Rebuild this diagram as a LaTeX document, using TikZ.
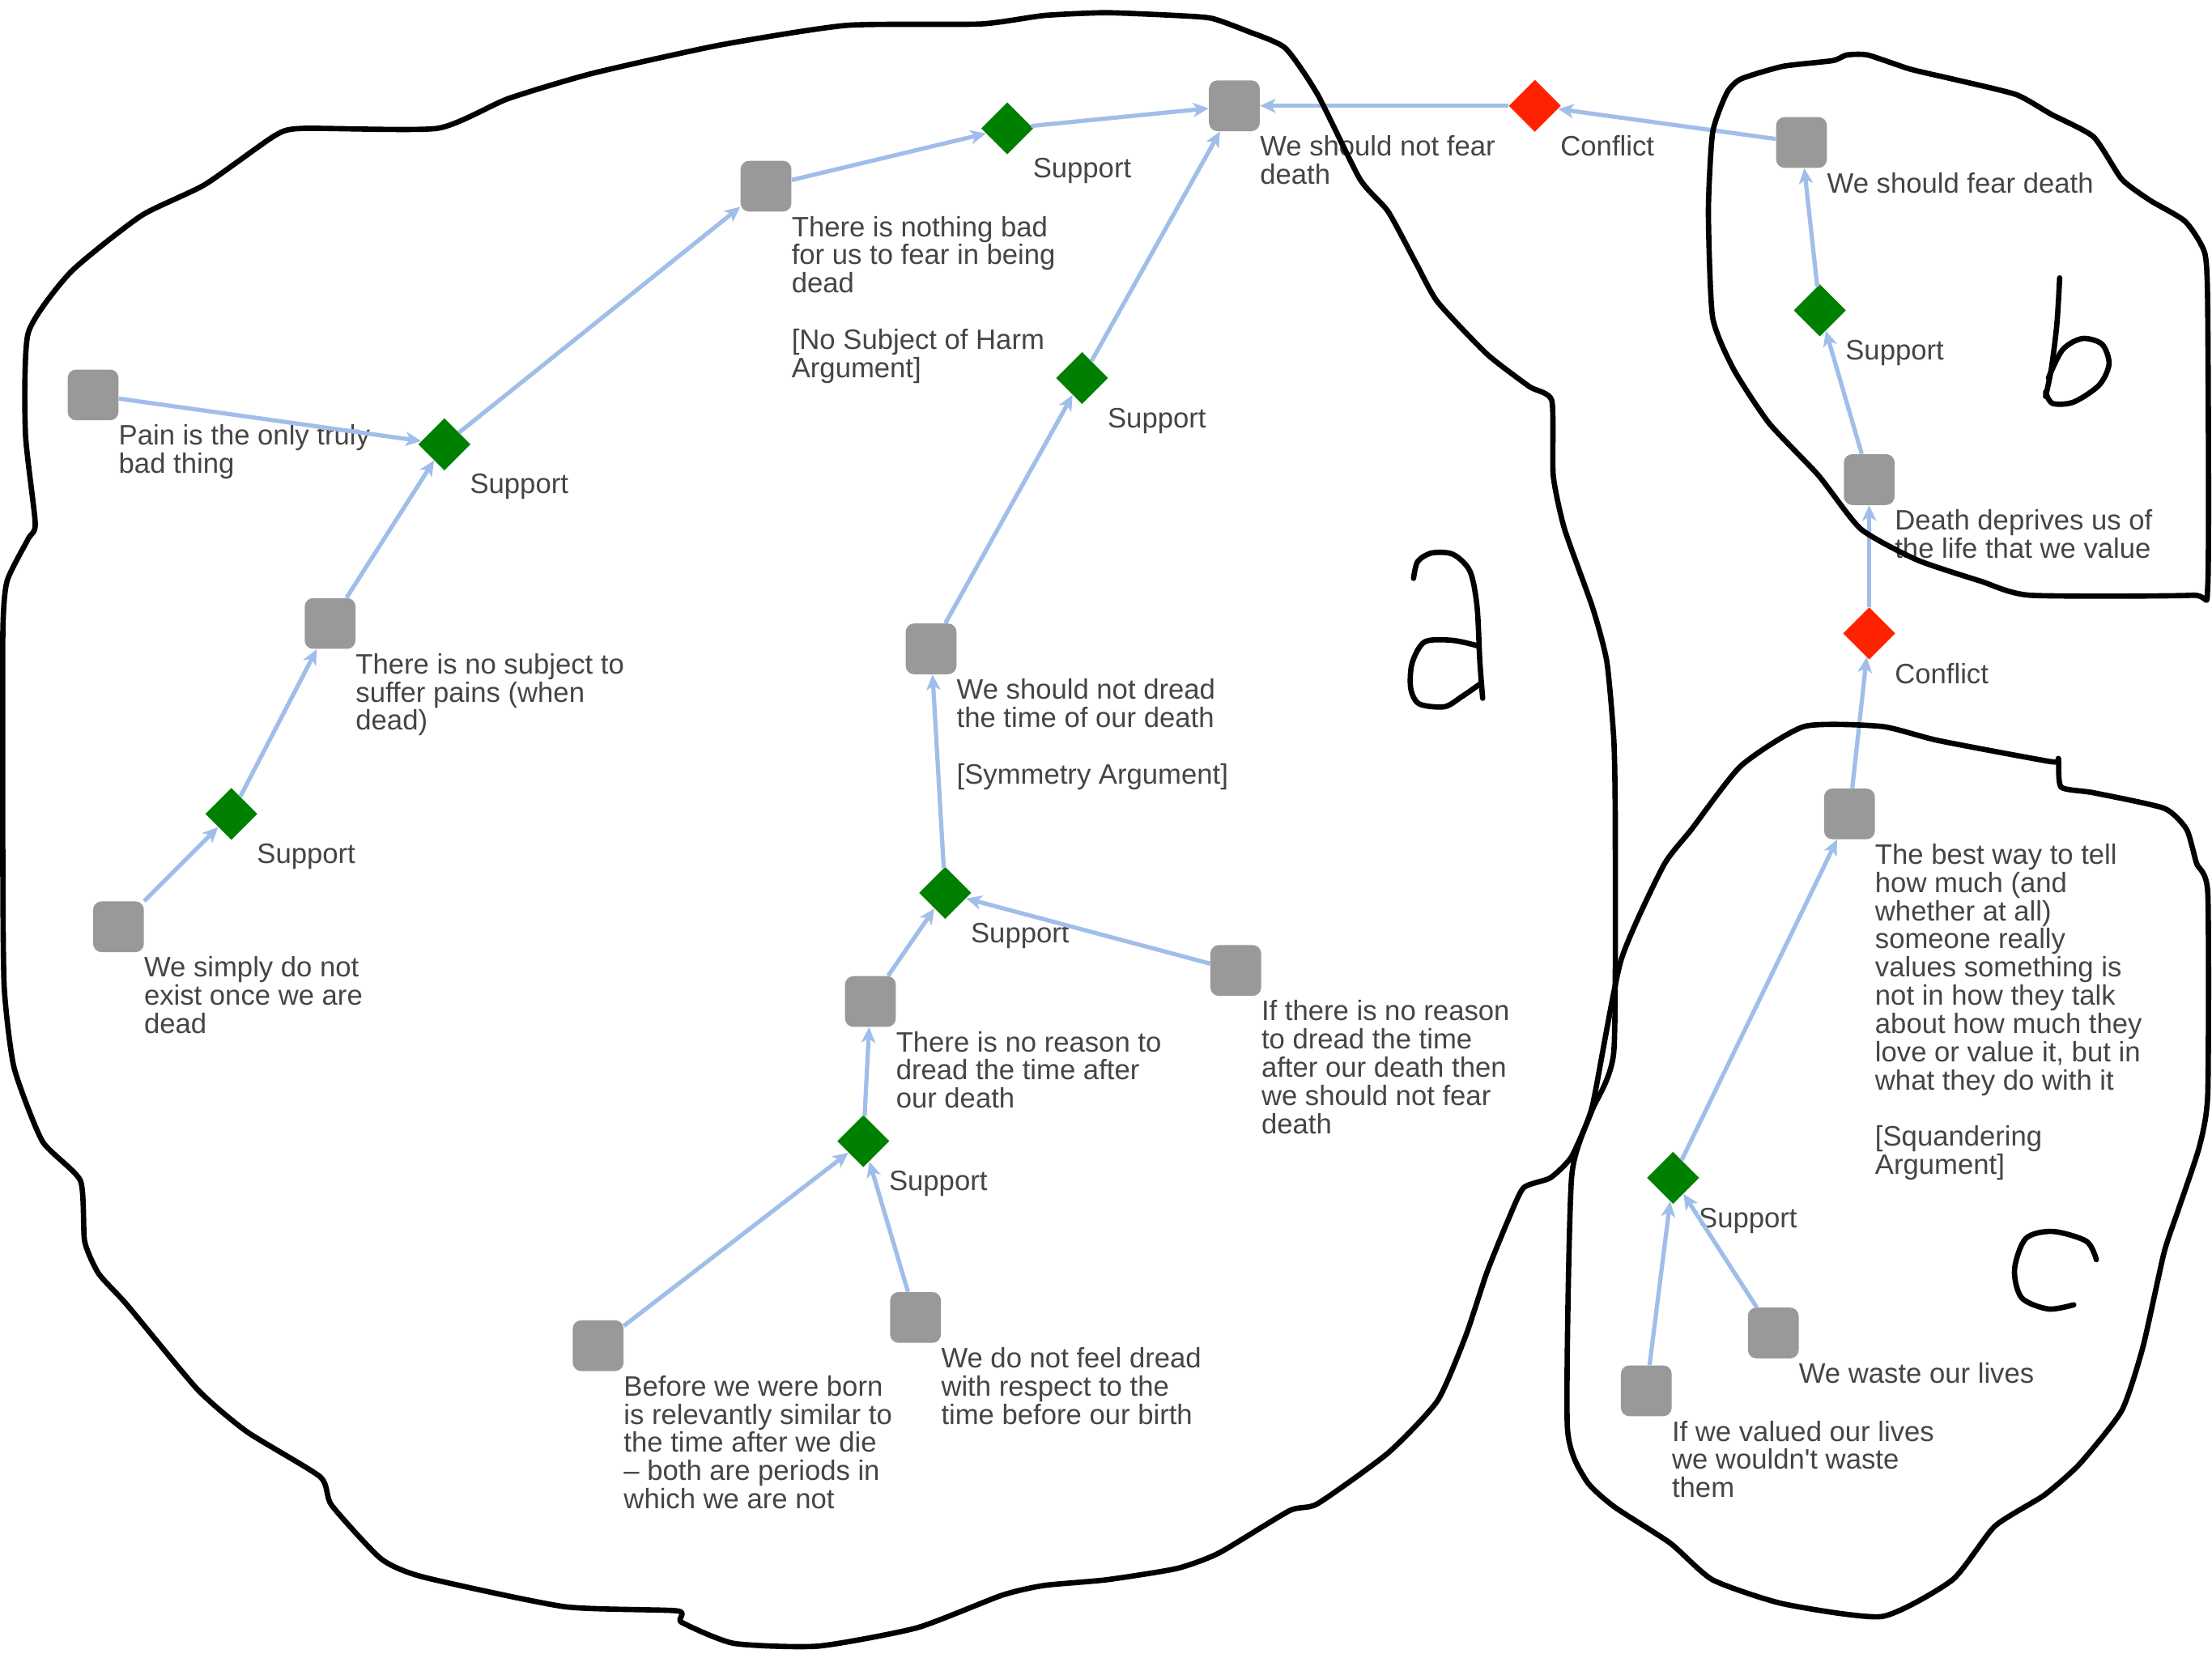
\documentclass[tikz,border=0pt]{standalone}
\usepackage{fontspec}
\setmainfont{Liberation Sans}
\usetikzlibrary{shapes.geometric,arrows.meta,calc}

\definecolor{boxgray}{HTML}{999999}
\definecolor{supgreen}{HTML}{008000}
\definecolor{conred}{HTML}{FF2200}
\definecolor{linkblue}{HTML}{A0BEEA}
\definecolor{txtgray}{HTML}{454545}

\tikzset{
  claim/.style={fill=boxgray, rounded corners=6pt, minimum width=36pt,
    minimum height=36pt, inner sep=0pt},
  support/.style={diamond, fill=supgreen, minimum width=37pt,
    minimum height=37pt, inner sep=0pt},
  conflict/.style={diamond, fill=conred, minimum width=37pt,
    minimum height=37pt, inner sep=0pt},
  lab/.style={anchor=north west, inner sep=0pt, align=left, text=txtgray,
    font=\fontsize{19.9pt}{20pt}\selectfont},
  link/.style={draw=linkblue, line width=3pt,
    -{Stealth[length=11pt,width=10pt,inset=3pt]}},
  blob/.style={draw=black, line width=3.8pt, line join=round, line cap=round},
}

% a box or diamond with its caption below right
\newcommand\argnode[4]{%
  \node[#1] (#2) at (#3) {};
  \node[lab] (#2-t) at ($(#2)+(18,21)$) {#4};}

\begin{document}
\begin{tikzpicture}[x=1pt,y=-1pt]
\useasboundingbox (0,0) rectangle (1568,1175);
\fill[white] (0,0) rectangle (1568,1175);

% ---- region a: Epicurean arguments
\argnode{claim}{a1}{875,75}{We should not fear\\death}
\argnode{support}{s1}{714,91}{Support}
\argnode{claim}{anothing}{543,132}{There is nothing bad\\for us to fear in being\\dead\\[20pt]{[}No Subject of Harm\\Argument{]}}
\argnode{support}{s2}{315,315}{Support}
\argnode{claim}{apain}{66,280}{Pain is the only truly\\bad thing}
\argnode{claim}{asubj}{234,442}{There is no subject to\\suffer pains (when\\dead)}
\argnode{support}{s3}{164,577}{Support}
\argnode{claim}{aexist}{84,657}{We simply do not\\exist once we are\\dead}
\argnode{support}{s4}{767,268}{Support}
\argnode{claim}{adread}{660,460}{We should not dread\\the time of our death\\[20pt]{[}Symmetry Argument{]}}
\argnode{support}{s5}{670,633}{Support}
\argnode{claim}{aafter}{617,710}{There is no reason to\\dread the time after\\our death}
\argnode{claim}{aif}{876,688}{If there is no reason\\to dread the time\\after our death then\\we should not fear\\death}
\argnode{support}{s6}{612,809}{Support}
\argnode{claim}{abefore}{424,954}{Before we were born\\is relevantly similar to\\the time after we die\\– both are periods in\\which we are not}
\argnode{claim}{afeel}{649,934}{We do not feel dread\\with respect to the\\time before our birth}

% ---- region b: deprivation
\argnode{conflict}{c1}{1088,75}{Conflict}
\argnode{claim}{b1}{1277,101}{We should fear death}
\argnode{support}{sb}{1290,220}{Support}
\argnode{claim}{b2}{1325,340}{Death deprives us of\\the life that we value}
\argnode{conflict}{c2}{1325,449}{Conflict}

% ---- region c: squandering
\argnode{claim}{cbest}{1311,577}{The best way to tell\\how much (and\\whether at all)\\someone really\\values something is\\not in how they talk\\about how much they\\love or value it, but in\\what they do with it\\[20pt]{[}Squandering\\Argument{]}}
\argnode{support}{sc}{1186,835}{Support}
\argnode{claim}{cwaste}{1257,945}{We waste our lives}
\argnode{claim}{cvalued}{1167,986}{If we valued our lives\\we wouldn\textquotesingle t waste\\them}

% ---- connectors
\draw[link] (apain) -- (s2);
\draw[link] (asubj) -- (s2);
\draw[link] (s2) -- (anothing);
\draw[link] (aexist) -- (s3);
\draw[link] (s3) -- (asubj);
\draw[link] (anothing) -- (s1);
\draw[link] (s1) -- (a1);
\draw[link] (s4) -- (a1);
\draw[link] (adread) -- (s4);
\draw[link] (s5) -- (adread);
\draw[link] (aafter) -- (s5);
\draw[link] (aif) -- (s5);
\draw[link] (s6) -- (aafter);
\draw[link] (abefore) -- (s6);
\draw[link] (afeel) -- (s6);
\draw[link] (c1) -- (a1);
\draw[link] (b1) -- (c1);
\draw[link] (b2) -- (sb);
\draw[link] (sb) -- (b1);
\draw[link] (c2) -- (b2);
\draw[link] (cbest) -- (c2);
\draw[link] (sc) -- (cbest);
\draw[link] (cvalued) -- (sc);
\draw[link] (cwaste) -- (sc);

% ---- hand-drawn outlines
\draw[blob] plot[smooth cycle, tension=0.35] coordinates {
 (2,450) (5,412) (20,382) (25,371) (18,307) (20,236) (50,193) (100,153)
 (145,131) (195,96) (215,91) (310,91) (360,70) (420,52) (510,32) (600,18)
 (695,17) (740,11) (784,9) (834,11) (859,13) (884,22) (911,34) (934,67)
 (964,127) (984,150) (1004,187) (1019,214) (1054,251) (1084,274) (1100,284)
 (1101,337) (1109,375) (1129,431) (1139,469) (1144,525) (1145,588) (1144,745)
 (1129,786) (1114,820) (1099,835) (1080,842) (1069,865) (1054,902) (1039,947)
 (1019,993) (984,1030) (934,1066) (914,1071) (864,1101) (834,1112) (784,1120)
 (740,1124) (710,1131) (650,1154) (580,1167) (520,1165) (483,1150) (480,1142)
 (400,1139) (300,1118) (270,1105) (235,1067) (227,1047) (175,1015) (140,985)
 (90,925) (70,903) (60,880) (57,837) (30,809) (10,757) (3,700) (2,610)};
\draw[blob] plot[smooth cycle, tension=0.35] coordinates {
 (1224,66) (1234,56) (1264,47) (1299,43) (1309,39) (1324,39) (1354,49)
 (1384,56) (1429,67) (1454,81) (1484,97) (1504,127) (1524,142) (1549,157)
 (1563,180) (1565,225) (1565,415) (1554,422) (1439,422) (1404,412)
 (1359,397) (1319,375) (1289,337) (1254,300) (1229,262) (1214,225)
 (1211,150) (1214,94)};
\draw[blob] plot[smooth cycle, tension=0.35] coordinates {
 (1199,588) (1179,614) (1149,681) (1129,783) (1114,835) (1111,1011)
 (1124,1049) (1144,1068) (1184,1094) (1214,1120) (1264,1137) (1334,1146)
 (1384,1120) (1414,1082) (1449,1060) (1474,1038) (1504,1000) (1519,955)
 (1534,888) (1544,858) (1559,813) (1565,775) (1565,633) (1557,612)
 (1550,588) (1534,573) (1484,562) (1461,558) (1459,538) (1454,540)
 (1374,525) (1334,515) (1279,515) (1234,543)};

% region letters
\draw[blob] plot[smooth, tension=0.5] coordinates {
 (1002,410) (1005,398) (1015,392) (1030,393) (1042,405) (1047,430) (1049,469) (1051,495)};
\draw[blob] plot[smooth, tension=0.5] coordinates {
 (1048,458) (1030,454) (1010,455) (1001,470) (1000,488) (1006,499) (1024,501) (1036,494) (1049,485)};
\draw[blob] plot[smooth, tension=0.5] coordinates {
 (1460,197) (1458,230) (1454,262) (1450,281)};
\draw[blob] plot[smooth, tension=0.5] coordinates {
 (1452,268) (1462,248) (1476,240) (1490,244) (1495,258) (1488,273) (1470,285) (1455,286) (1450,278)};
\draw[blob] plot[smooth, tension=0.5] coordinates {
 (1486,893) (1479,880) (1455,873) (1436,878) (1428,900) (1433,920) (1452,928) (1470,925)};
\end{tikzpicture}
\end{document}
